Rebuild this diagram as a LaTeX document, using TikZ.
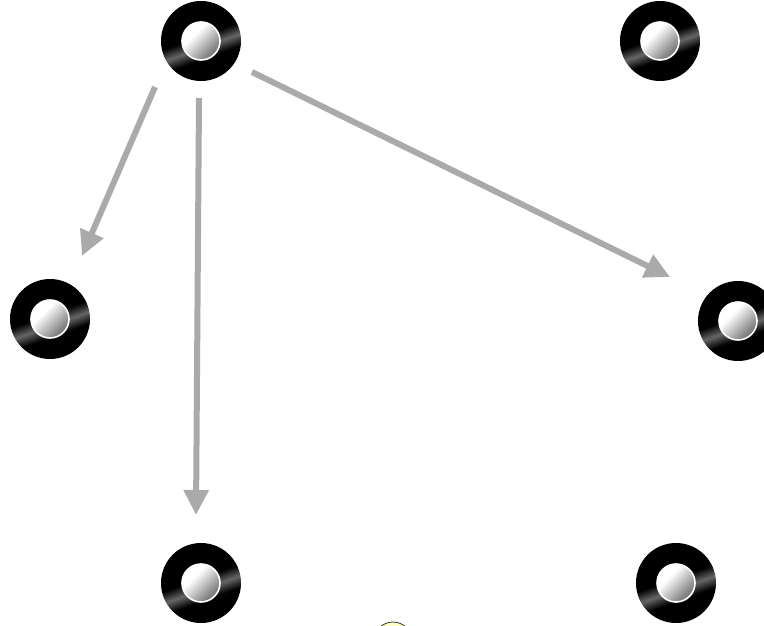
\documentclass[tikz,border=0pt]{standalone}
\usetikzlibrary{arrows.meta,calc}
\pgfdeclareverticalshading{ringshade}{100bp}{color(0bp)=(black); color(39bp)=(black); color(46bp)=(black!60); color(53bp)=(black); color(100bp)=(black)}
\pgfdeclareverticalshading{innershade}{100bp}{color(0bp)=(black!55); color(30bp)=(black!50); color(62bp)=(white); color(100bp)=(white)}
\definecolor{arrowgray}{RGB}{170,170,170}
\definecolor{paleyellow}{RGB}{255,255,200}
\tikzset{
  ring/.style={circle, inner sep=0pt, minimum size=80pt, shading=ringshade, shading angle=20},
  hub/.style={circle, inner sep=0pt, minimum size=38pt, draw=white, line width=1.6pt, shading=innershade, shading angle=45},
  link/.style={draw=arrowgray, line width=6pt, -{Triangle[length=25pt,width=24pt]}}
}
\newcommand{\discnode}[3]{%
  \node[ring] (#1) at (#2,#3) {};
  \node[hub] (#1-hub) at (#1) {};
}
\begin{document}
\begin{tikzpicture}[x=1pt,y=-1pt]
\useasboundingbox (0,0) rectangle (764,626);
\discnode{A}{201}{41}
\discnode{B}{660}{41}
\discnode{C}{50}{319}
\discnode{D}{738}{321}
\discnode{E}{201}{583}
\discnode{F}{676}{583}
\node[circle, inner sep=0pt, minimum size=38pt, fill=paleyellow, draw=black!80, line width=0.8pt] (G) at (393,641) {};
\draw[link] ($(A)+(-46,46)$) -- ($(C)+(32,-63)$);
\draw[link] ($(A)+(-2,57)$) -- ($(E)+(-5,-68)$);
\draw[link] ($(A)+(51,31)$) -- ($(D)+(-68,-44)$);
\end{tikzpicture}
\end{document}
